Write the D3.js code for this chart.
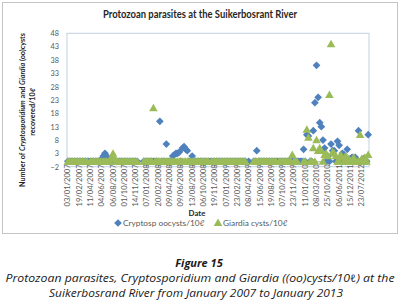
<!DOCTYPE html>
<html>
<head>
<meta charset="utf-8">
<script src="https://cdn.jsdelivr.net/npm/d3@7"></script>
<style>
    body { margin: 0; background: #fff; }
    #chart { width: 400px; height: 304px; }
    .axis text { font-family: Lato, "Noto Sans", sans-serif; fill: #595959; }
</style>
</head>
<body>
<div id="chart"></div>
<script>

// every 7th sample date is labelled on the category axis
let tickLabels = ["03/01/2007", "19/02/2007", "11/04/2007", "04/06/2007", "06/08/2007", "01/10/2007", "14/11/2007",
    "07/01/2008", "20/02/2008", "09/04/2008", "09/06/2008", "13/08/2008", "06/10/2008", "19/11/2008",
    "07/01/2009", "23/02/2009", "08/04/2009", "15/06/2009", "19/08/2009", "07/10/2009", "23/11/2009",
    "11/01/2010", "08/03/2010", "25/10/2010", "06/06/2011", "15/12/2011", "23/07/2012"];
let labelStep = 7;

let yTicks = [-2, 3, 8, 13, 18, 23, 28, 33, 38, 43, 48];

// Cryptosp oocysts/10l, one value per sample (null = no sample)
let cryptoValues = [
    0, 0, 0, 0, 0, 0, 0, 0, 0, 0, 0, 0, 0, 0, 0, 0, 0, 0, 0, 0,
    0, 1, 2, 3, 2, 1, 0, 0, 0, 0, 0, 0, 0, 0, 0, 0, 0, 0, 0, 0,
    0, 0, 0, 0, null, null, null, 0, 0, 0, 0, 0, 0, 0, 0, 0, 0, 15, 0, 0,
    0, 6.5, 0, 0, 0, 2, 2.5, 3, 3, 3.5, 0, 5, 5.5, 4.5, 4, 0, 0, 2, 0, 0,
    0, 0, 0, 0, 0, 0, 0, 0, 0, 0, 0, 0, 0, 0, 0, 0, 0, 0, 0, 0,
    0, 0, 0, 0, 0, 0, 0, 0, 0, 0, 0, null, 0, null, null, 0, 0, 4, 0, 0,
    0, 0, 0, 0, 0, 0, 0, 0, 0, 0, 0, 0, 0, 0, 0, 0, 0, 0, 0, 0,
    0, 0, 0, 0, 0, 0, 4.5, 0, 10, 9.5, 0, 0, 11.5, 22, 36, 24, 14.5, 13, 8, 5,
    0, 2, 0, 6.5, 4, 4, 0, 7.5, 6, 0, 3, 2.5, 0, 4.5, 0, 1, 1.5, 0, 1.5, 0,
    11.5, 0, 0, 1, 0, 0, 10
];

// Giardia cysts/10l
let giardiaValues = [
    0, 0, 0, 0, 0, 0, 0, 0, 0, 0, 0, 0, 0, null, 0, 0, 0, 0, 0, 0,
    0, 0, 0, 0, 0, 0, 0, 1.5, 3, 1, 0, 0, 0, 0, 0, 0, 0, 0, 0, 0,
    0, 0, 0, 0, null, null, null, 0, 0, 0, 0, 0, 0, 20, 0, 0, 0, 0, 0, 0,
    0, 0, 0, 0, 0, 0, 0, 0, 0, 0, 0, 0, 0, 0, 0, 0, 0, 0, 0, 0,
    0, 0, 0, 0, 0, 0, 0, 0, null, 0, 0, 0, 0, 0, 0, 0, 0, 0, 0, 0,
    0, 0, 0, 0, 0, 0, 0, 0, 0, 0, 0, null, null, null, null, 0, 0, 0, 0, 0,
    0, 0, 0, 0, 0, 0, 0, 0, 0, 0, null, 0, 0, 0, 0, 0, 0, 0, 0, 2.5,
    0, 0, 0, null, null, null, 0, 0, 12, 9, 0, 0, 5, 0, 8, 4, 5, 4, 0, 2.5,
    3, 2, 25, 44, 3.5, 3, 2, 0, 0, 2.5, 1.5, 0, 2, 0, 1, 0, 0, 1.5, 0, 0,
    0, 10, 1, 0, 1.5, 0, 2.5
];

let seriesNames = ["Cryptosp oocysts/10\u2113", "Giardia cysts/10\u2113"];
let seriesColors = ["#4f81bd", "#9bbb59"];


class ParasiteVis {

    constructor(parentElement) {
        this.parentElement = parentElement;
        this.initVis();
    }

    initVis() {
        let vis = this;

        vis.width = 400;
        vis.height = 304;
        vis.plot = {left: 67, right: 369, top: 33.3, bottom: 166.7};

        vis.svg = d3.select("#" + vis.parentElement).append("svg")
            .attr("width", vis.width)
            .attr("height", vis.height);

        // chart area frame
        vis.svg.append("rect")
            .attr("x", 2.5).attr("y", 2.5)
            .attr("width", 395).attr("height", 231)
            .attr("fill", "#fff")
            .attr("stroke", "#c4c4c4");

        vis.svg.append("text")
            .attr("x", 200).attr("y", 18)
            .attr("text-anchor", "middle")
            .attr("textLength", 194)
            .attr("lengthAdjust", "spacingAndGlyphs")
            .style("font-family", "Lato, sans-serif")
            .style("font-weight", "bold")
            .style("font-size", "10.5px")
            .style("fill", "#262626")
            .text("Protozoan parasites at the Suikerbosrant River");

        // scales
        vis.x = d3.scaleBand()
            .domain(d3.range(cryptoValues.length))
            .range([vis.plot.left, vis.plot.right]);

        vis.y = d3.scaleLinear()
            .domain([d3.min(yTicks), d3.max(yTicks)])
            .range([vis.plot.bottom, vis.plot.top]);

        // plot area border
        vis.svg.append("rect")
            .attr("x", vis.plot.left).attr("y", vis.plot.top)
            .attr("width", vis.plot.right - vis.plot.left)
            .attr("height", vis.plot.bottom - vis.plot.top)
            .attr("fill", "none")
            .attr("stroke", "#c3d0e0");

        // y axis
        let yAxis = vis.svg.append("g")
            .attr("class", "axis")
            .attr("transform", `translate(${vis.plot.left - 7}, 0)`)
            .call(d3.axisLeft(vis.y).tickValues(yTicks).tickSize(0).tickPadding(1));
        yAxis.select(".domain").remove();
        yAxis.selectAll("text").style("font-size", "7.3px");

        // x axis sits on zero
        let xAxis = vis.svg.append("g")
            .attr("class", "axis")
            .attr("transform", `translate(0, ${vis.y(0)})`)
            .call(d3.axisBottom(vis.x)
                .tickValues(d3.range(0, cryptoValues.length, labelStep))
                .tickFormat(i => tickLabels[i / labelStep])
                .tickSize(0));
        xAxis.select(".domain").attr("stroke", "#9aa8b8");
        xAxis.selectAll("text")
            .style("font-size", "7.6px")
            .attr("text-anchor", "end")
            .attr("transform", "rotate(-90)")
            .attr("x", -3)
            .attr("y", 0)
            .attr("dy", "0.33em");

        // markers
        let diamond = d3.symbol(d3.symbolSquare, 30);
        let triangle = d3.symbol(d3.symbolTriangle, 32);
        let half = vis.x.bandwidth() / 2;

        let cryptoPts = cryptoValues.map((v, i) => ({i: i, v: v})).filter(d => d.v !== null);
        let giardiaPts = giardiaValues.map((v, i) => ({i: i, v: v})).filter(d => d.v !== null);

        vis.svg.append("g").selectAll("path")
            .data(cryptoPts)
            .enter()
            .append("path")
            .attr("d", diamond)
            .attr("fill", seriesColors[0])
            .attr("transform", d => `translate(${vis.x(d.i) + half}, ${vis.y(d.v)}) rotate(45)`);

        vis.svg.append("g").selectAll("path")
            .data(giardiaPts)
            .enter()
            .append("path")
            .attr("d", triangle)
            .attr("fill", seriesColors[1])
            .attr("transform", d => `translate(${vis.x(d.i) + half}, ${vis.y(d.v) + 0.8})`);

        // y axis title, two lines
        let yTitle = vis.svg.append("text")
            .attr("transform", "translate(22, 110) rotate(-90)")
            .attr("text-anchor", "middle")
            .attr("dy", "0.35em")
            .style("font-family", "Lato, sans-serif")
            .style("font-weight", "bold")
            .style("font-size", "7.2px")
            .style("fill", "#262626");
        yTitle.append("tspan").text("Number of ");
        yTitle.append("tspan").style("font-style", "italic").text("Cryptosporidium");
        yTitle.append("tspan").text(" and ");
        yTitle.append("tspan").style("font-style", "italic").text("Giardia");
        yTitle.append("tspan").text(" (oo)cysts");

        vis.svg.append("text")
            .attr("transform", "translate(32, 112) rotate(-90)")
            .attr("text-anchor", "middle")
            .attr("dy", "0.35em")
            .style("font-family", "Lato, sans-serif")
            .style("font-weight", "bold")
            .style("font-size", "7.2px")
            .style("fill", "#262626")
            .text("recovered/10\u2113");

        vis.svg.append("text")
            .attr("x", 197).attr("y", 216)
            .attr("text-anchor", "middle")
            .style("font-family", "Lato, sans-serif")
            .style("font-weight", "bold")
            .style("font-size", "7.8px")
            .style("fill", "#262626")
            .text("Date");

        // legend
        let legend = vis.svg.append("g").attr("transform", "translate(0, 223)");
        legend.append("path")
            .attr("d", diamond)
            .attr("fill", seriesColors[0])
            .attr("transform", "translate(118, 0) rotate(45)");
        legend.append("path")
            .attr("d", triangle)
            .attr("fill", seriesColors[1])
            .attr("transform", "translate(218, 0.5)");
        legend.selectAll("text")
            .data(seriesNames)
            .enter()
            .append("text")
            .attr("x", (d, i) => i === 0 ? 123 : 223)
            .attr("dy", "0.33em")
            .style("font-family", "Lato, sans-serif")
            .style("font-size", "8.3px")
            .style("fill", "#595959")
            .text(d => d);

        // figure caption
        let caption = vis.svg.append("g")
            .style("font-family", "'Open Sans', sans-serif")
            .style("fill", "#1a1a1a");
        caption.append("text")
            .attr("x", 199).attr("y", 267)
            .attr("text-anchor", "middle")
            .style("font-weight", "bold")
            .style("font-style", "italic")
            .style("font-size", "11px")
            .text("Figure 15");
        caption.append("text")
            .attr("x", 200).attr("y", 282)
            .attr("text-anchor", "middle")
            .attr("textLength", 389)
            .attr("lengthAdjust", "spacingAndGlyphs")
            .style("font-style", "italic")
            .style("font-size", "10.3px")
            .text("Protozoan parasites, Cryptosporidium and Giardia ((oo)cysts/10\u2113) at the");
        caption.append("text")
            .attr("x", 196).attr("y", 297)
            .attr("text-anchor", "middle")
            .attr("textLength", 294)
            .attr("lengthAdjust", "spacingAndGlyphs")
            .style("font-style", "italic")
            .style("font-size", "10.3px")
            .text("Suikerbosrand River from January 2007 to January 2013");
    }
}

let parasiteVis = new ParasiteVis("chart");

</script>
</body>
</html>
